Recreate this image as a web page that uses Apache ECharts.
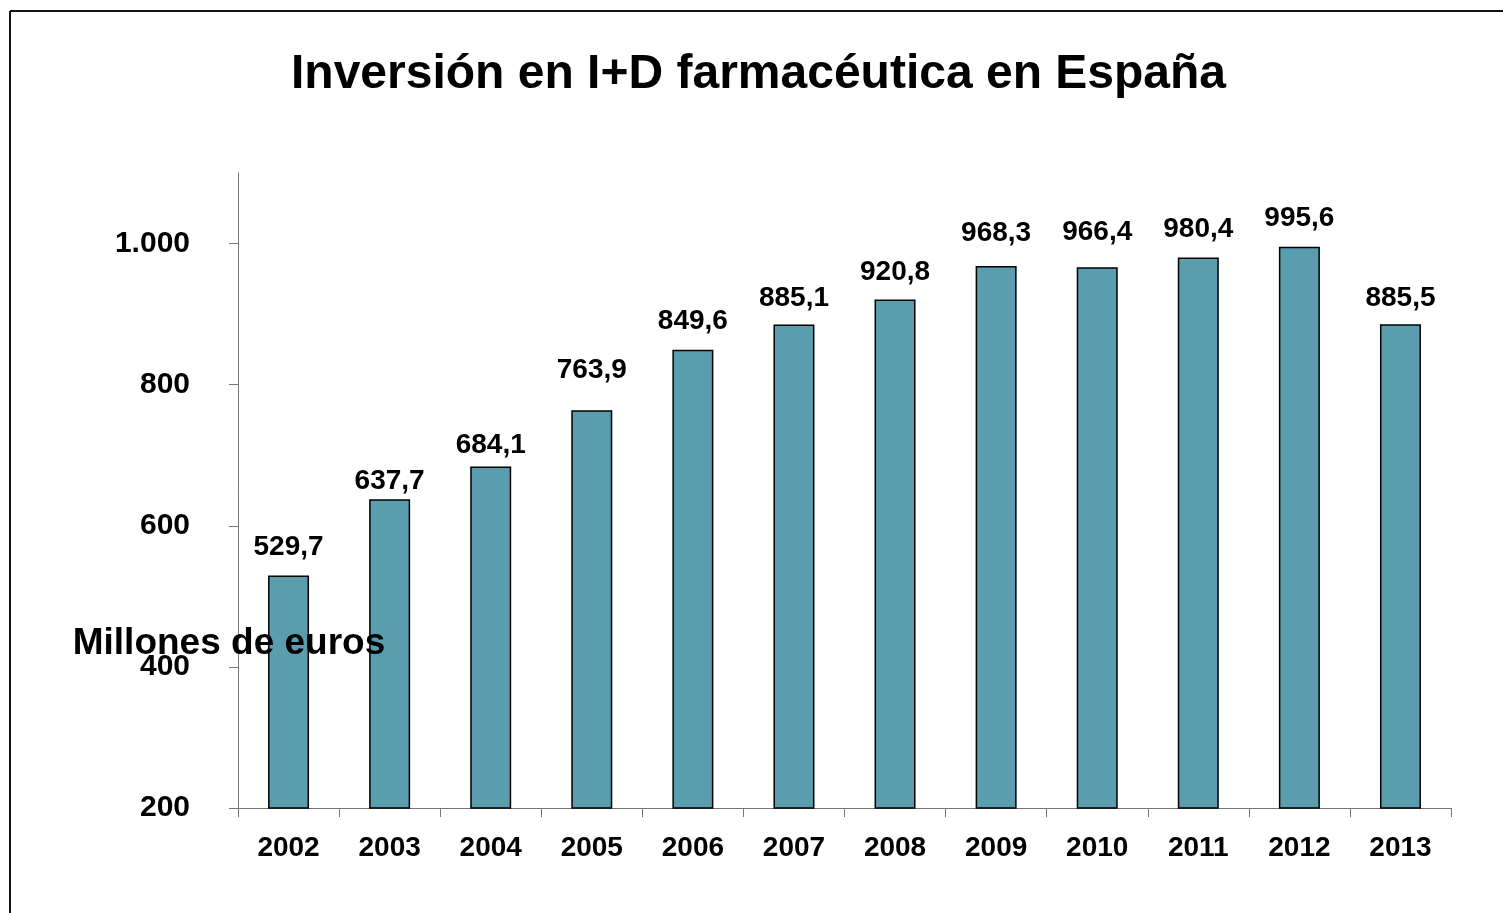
<!DOCTYPE html>
<html>
<head>
<meta charset="utf-8">
<title>Inversión en I+D farmacéutica en España</title>
<script src="https://cdn.jsdelivr.net/npm/echarts@6/dist/echarts.min.js"></script>
<style>
  html, body { margin: 0; padding: 0; background: #fff; }
  #chart { width: 1503px; height: 913px; }
</style>
</head>
<body>
<div id="chart"></div>
<script>
// datos
var years = ['2002', '2003', '2004', '2005', '2006', '2007', '2008', '2009', '2010', '2011', '2012', '2013'];
var inversion = [529.7, 637.7, 684.1, 763.9, 849.6, 885.1, 920.8, 968.3, 966.4, 980.4, 995.6, 885.5];
var yTicks = [200, 400, 600, 800, 1000];
// ajuste fino de las etiquetas (en el original están colocadas a mano)
var labelNudge = [0, 10, 7, -12, 0, 2, 1, -5, -7, 0, 0, 2];

var font = '"Liberation Sans", Arial, Helvetica, sans-serif';

function fmtNum(v) {
  // formato español: coma decimal, punto de miles
  var s = String(v);
  if (v >= 1000) return s.slice(0, s.length - 3) + '.' + s.slice(-3);
  return s.replace('.', ',');
}

var myChart = echarts.init(document.getElementById('chart'));

var barData = inversion.map(function (v, i) {
  return { value: v, label: { offset: [0, labelNudge[i]] } };
});

var option = {
  backgroundColor: '#fff',
  animation: false,
  title: {
    text: 'Inversión en I+D farmacéutica en España',
    left: 286,
    top: 46,
    textStyle: { fontFamily: font, fontSize: 48, fontWeight: 'bold', color: '#000' }
  },
  grid: { left: 238, right: 52, top: 173, bottom: 105, containLabel: false },
  xAxis: {
    type: 'category',
    data: years,
    axisLine: { lineStyle: { color: '#777', width: 1 } },
    axisTick: { show: true, length: 9, lineStyle: { color: '#777' } },
    axisLabel: { margin: 26, fontFamily: font, fontSize: 28, fontWeight: 'bold', color: '#000' }
  },
  yAxis: {
    type: 'value',
    min: 200,
    max: 1100,
    interval: 200,
    splitLine: { show: false },
    axisLine: { show: true, lineStyle: { color: '#777', width: 1 } },
    axisTick: { show: true, length: 9, customValues: yTicks, lineStyle: { color: '#777' } },
    axisLabel: {
      margin: 48,
      customValues: yTicks,
      fontFamily: font, fontSize: 30, fontWeight: 'bold', color: '#000',
      formatter: function (v) { return fmtNum(v); }
    }
  },
  series: [
    {
      name: 'Inversión',
      type: 'bar',
      barWidth: 41,
      data: barData,
      itemStyle: { color: '#599dae', borderColor: '#000', borderWidth: 1.5 },
      label: {
        show: true,
        position: 'top',
        distance: 14,
        fontFamily: font, fontSize: 28, fontWeight: 'bold', color: '#000',
        formatter: function (p) { return fmtNum(p.value); }
      }
    }
  ],
  graphic: [
    // marco
    { type: 'line', shape: { x1: 10, y1: 11, x2: 1503, y2: 11 }, style: { stroke: '#111', lineWidth: 2 } },
    { type: 'line', shape: { x1: 10, y1: 11, x2: 10, y2: 913 }, style: { stroke: '#111', lineWidth: 2 } },
    {
      type: 'text',
      x: 229,
      y: 644,
      z: 100,
      style: {
        text: 'Millones de euros',
        fill: '#000',
        font: 'bold 37px ' + font,
        textAlign: 'center',
        textVerticalAlign: 'middle'
      }
    }
  ]
};

option && myChart.setOption(option);
</script>
</body>
</html>
